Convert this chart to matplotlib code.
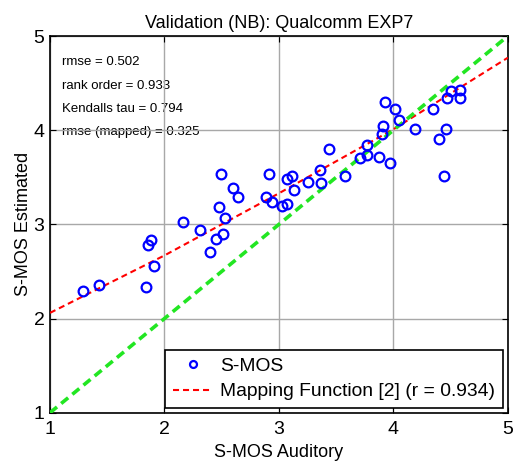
import numpy as np
import matplotlib
matplotlib.use('Agg')
import matplotlib.pyplot as plt

plt.rcParams['font.family'] = ['Liberation Sans', 'DejaVu Sans']

# S-MOS values
auditory = [1.29, 1.43, 1.84, 1.86, 1.88, 1.91, 2.16, 2.31, 2.40, 2.45, 2.51, 2.48,
            2.53, 2.49, 2.60, 2.64, 2.91, 2.89, 2.94, 3.03, 3.07, 3.07, 3.11, 3.13,
            3.25, 3.36, 3.37, 3.44, 3.58, 3.71, 3.77, 3.77, 3.87, 3.97, 3.90, 3.91,
            3.93, 4.01, 4.05, 4.19, 4.35, 4.40, 4.46, 4.44, 4.47, 4.50, 4.58, 4.58]
estimated = [2.29, 2.36, 2.33, 2.78, 2.83, 2.56, 3.02, 2.94, 2.71, 2.84, 2.90, 3.18,
             3.07, 3.53, 3.39, 3.29, 3.53, 3.29, 3.24, 3.19, 3.22, 3.48, 3.51, 3.36,
             3.45, 3.58, 3.44, 3.80, 3.51, 3.70, 3.84, 3.74, 3.71, 3.65, 3.96, 4.04,
             4.30, 4.22, 4.11, 4.01, 4.23, 3.91, 4.01, 3.51, 4.34, 4.42, 4.43, 4.34]

# mapping curve read at x = 1..5
map_x = [1, 2, 3, 4, 5]
map_y = [2.06, 2.67, 3.33, 4.01, 4.77]

ident = [1, 5]

stats = ['rmse = 0.502', 'rank order = 0.933', 'Kendalls tau = 0.794',
         'rmse (mapped) = 0.325']
stat_y = [4.72, 4.47, 4.22, 3.98]

fig = plt.figure(figsize=(5.13, 4.66), dpi=100)
ax = fig.add_axes([0.0975, 0.1144, 0.8925, 0.8083])

ax.grid(True, color='#a8a8a8', linewidth=1.0, zorder=1)
ax.set_axisbelow(True)

for s, yy in zip(stats, stat_y):
    ax.text(1.107, yy, s, fontsize=9.5, va='center', ha='left', zorder=0)

pts, = ax.plot(auditory, estimated, 'o', mfc='none', mec='blue', ms=7, mew=1.6,
               label='S-MOS', zorder=4)
ml, = ax.plot(map_x, map_y, '--', color='red', lw=1.5, dashes=(2.9, 1.9),
              label='Mapping Function [2] (r = 0.934)', zorder=3)
ax.plot(ident, ident, '--', color='#22e622', lw=2.6, dashes=(2.5, 1.5), zorder=3)

ax.set_xlim(1, 5)
ax.set_ylim(1, 5)
ax.set_xticks([1, 2, 3, 4, 5])
ax.set_yticks([1, 2, 3, 4, 5])
ax.tick_params(direction='in', length=4, top=True, right=True, labelsize=14,
               width=0.8)
ax.tick_params(axis='x', pad=6)
ax.tick_params(axis='y', pad=4)
for sp in ax.spines.values():
    sp.set_linewidth(1.2)

ax.set_title('Validation (NB): Qualcomm EXP7', fontsize=13, pad=6)
ax.set_xlabel('S-MOS Auditory', fontsize=13, labelpad=4)
ax.set_ylabel('S-MOS Estimated', fontsize=13, labelpad=1)

leg = ax.legend(handles=[pts, ml], loc='lower right',
                bbox_to_anchor=(0.989, 0.0125), borderaxespad=0, fontsize=13.85,
                fancybox=False, framealpha=1, handlelength=2.1,
                handletextpad=0.35, borderpad=0.4, labelspacing=0.4)
leg.get_frame().set_edgecolor('black')
leg.get_frame().set_linewidth(1.2)
leg.legend_handles[0].set_markersize(5)

fig.savefig('out.png', dpi=100)
